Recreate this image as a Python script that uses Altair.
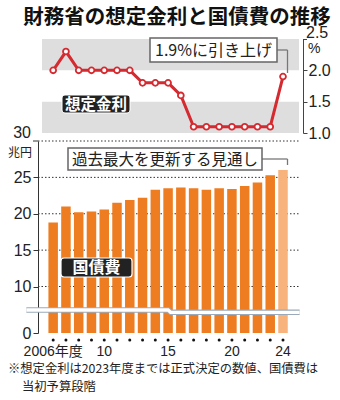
import altair as alt
import pandas as pd

FONT = "Noto Sans CJK JP"
NUMFONT = "Liberation Sans, Noto Sans CJK JP"

# ---- data ----
years = list(range(2006, 2025))
rate = [2.0, 2.3, 2.0, 2.0, 2.0, 2.0, 2.0, 1.8, 1.8, 1.8, 1.6, 1.1, 1.1, 1.1, 1.1, 1.1, 1.1, 1.1, 1.9]
debt = [18.8, 21.0, 20.2, 20.3, 20.6, 21.5, 21.9, 22.2, 23.3, 23.5, 23.6, 23.5, 23.3, 23.5, 23.4, 23.8, 24.3, 25.3, 26.0]
kind = ["確定"] * 18 + ["見通し"]
x_label_years = [2006, 2010, 2015, 2020, 2024]
x_label_texts = ["2006年度", "10", "15", "20", "24"]
rate_ticks = [1.0, 1.5, 2.0]
debt_ticks = [0, 10, 15, 20, 25]
debt_grid = [10, 15, 20, 25, 30]
band_lo = [2.0, 1.0]
band_hi = [2.5, 1.5]
break_x = [2003.9, 2015.0, 2015.2, 2025.3]
break_y = [4.95, 4.95, 4.45, 4.45]

RED = "#d42a30"
ORANGE = "#ee7d22"
LIGHT = "#f8b27c"

df = pd.DataFrame({"year": years, "rate": rate, "debt": debt, "kind": kind})
bands_df = pd.DataFrame({"lo": band_lo, "hi": band_hi})
grid_df = pd.DataFrame({"v": debt_grid})
xlab_df = pd.DataFrame({"year": x_label_years, "lab": x_label_texts})
break_df = pd.DataFrame({"year": break_x, "v": break_y, "o": list(range(len(break_x)))})

W, H = 260, 294
xscale = alt.Scale(domain=[2005.36, 2024.94], nice=False, zero=False)
X = alt.X("year:Q", scale=xscale, axis=None)


def rate_scale():
    return alt.Scale(domain=[1.0, 2.5], range=[94, 0], nice=False, zero=False)


def debt_scale():
    return alt.Scale(domain=[0, 10, 30], range=[294, 247.5, 102], nice=False, zero=False)


rate_axis = alt.Axis(orient="right", values=rate_ticks, offset=3, tickSize=4,
                     format=".1f",
                     labelFont=NUMFONT, labelFontSize=16, labelColor="#222", labelPadding=1,
                     domainColor="#444", tickColor="#444", grid=False, title=None)
debt_axis = alt.Axis(orient="left", values=debt_ticks, offset=2, tickSize=5,
                     format="d",
                     labelFont=NUMFONT, labelFontSize=16, labelColor="#222", labelPadding=2,
                     domainColor="#333", tickColor="#333", grid=False, title=None)


def RY(field, axis=None):
    return alt.Y(field, scale=rate_scale(), axis=axis)


def DY(field, axis=None):
    return alt.Y(field, scale=debt_scale(), axis=axis)


def one():
    return pd.DataFrame({"t": [""]})


def text(label, x, y, **kw):
    base = dict(font=FONT, baseline="middle")
    base.update(kw)
    return alt.Chart(pd.DataFrame({"t": [label]})).mark_text(**base).encode(
        x=alt.value(x), y=alt.value(y), text="t:N")


def box(x1, x2, y1, y2, **kw):
    return alt.Chart(one()).mark_rect(**kw).encode(
        x=alt.value(x1), x2=alt.value(x2), y=alt.value(y1), y2=alt.value(y2))


def seg(x1, x2, y1, y2, **kw):
    return alt.Chart(one()).mark_rule(**kw).encode(
        x=alt.value(x1), x2=alt.value(x2), y=alt.value(y1), y2=alt.value(y2))


# ---- rate panel ----
bands = alt.Chart(bands_df).mark_rect(color="#dedede").encode(
    x=alt.value(2), x2=alt.value(259), y=RY("hi:Q"), y2="lo:Q")
line = alt.Chart(df).mark_line(color=RED, strokeWidth=3).encode(x=X, y=RY("rate:Q", rate_axis))
pts = alt.Chart(df).mark_point(filled=True, fill="white", stroke=RED, strokeWidth=1.8,
                               size=34, opacity=1).encode(x=X, y=RY("rate:Q"))

# ---- debt panel ----
grid = alt.Chart(grid_df).mark_rule(color="#333", strokeWidth=1, strokeDash=[1.5, 2]).encode(
    x=alt.value(-2), x2=alt.value(260), y=DY("v:Q"))
bars = alt.Chart(df).mark_bar(size=9.5).encode(
    x=X, y=DY("debt:Q", debt_axis),
    color=alt.Color("kind:N", scale=alt.Scale(domain=["確定", "見通し"], range=[ORANGE, LIGHT]),
                    legend=None))
brk_gray = alt.Chart(break_df).mark_line(color="#9aaaba", strokeWidth=5.5).encode(
    x=alt.X("year:Q", scale=xscale, axis=None), y=DY("v:Q"), order="o:Q")
brk_white = alt.Chart(break_df).mark_line(color="white", strokeWidth=3.3).encode(
    x=alt.X("year:Q", scale=xscale, axis=None), y=DY("v:Q"), order="o:Q")
dots = alt.Chart(df).mark_circle(size=9, color="#111", opacity=1).encode(x=X, y=alt.value(301))
xlabs = alt.Chart(xlab_df).mark_text(font=NUMFONT, fontSize=14, color="#222", baseline="middle").encode(
    x=X, y=alt.value(313), text="lab:N")

layers = [
    bands, line, pts,
    seg(263, 267, 0.5, 0.5, color="#444", strokeWidth=1),
    seg(237, 247.5, 11, 11, color="#777", strokeWidth=1.3),
    seg(247.5, 247.5, 11, 34, color="#777", strokeWidth=1.3),
    box(110, 237, -1, 23, fill="white", stroke="#666", strokeWidth=1.5),
    text("1.9%に引き上げ", 173.5, 11.5, fontSize=16, color="#222"),
    box(22, 90, 56, 74, fill="#222", stroke="white", strokeWidth=1, cornerRadius=3),
    text("想定金利", 56, 65.5, fontSize=15.5, fontWeight="bold", color="white"),
    text("2.5", 266, -6.5, fontSize=16, align="left", font=NUMFONT, color="#222"),
    text("%", 268, 9.5, fontSize=14, align="left", font=NUMFONT, color="#222"),
    grid, bars, brk_gray, brk_white, dots, xlabs,
    seg(-7, -2, 102, 102, color="#333", strokeWidth=1),
    seg(222, 247.5, 120, 120, color="#777", strokeWidth=1.3),
    seg(247.5, 247.5, 120, 126, color="#777", strokeWidth=1.3),
    box(28, 222, 109, 131, fill="white", stroke="#666", strokeWidth=1.5),
    text("過去最大を更新する見通し", 125, 120.5, fontSize=15.5, color="#222"),
    box(21, 92, 219, 238, fill="#222", stroke="white", strokeWidth=1.2, cornerRadius=3),
    text("国債費", 56.5, 229, fontSize=16, fontWeight="bold", color="white"),
    text("30", -9, 94, fontSize=16, align="right", font=NUMFONT, color="#222"),
    text("兆円", -8, 113.5, fontSize=12, align="right", color="#222"),
    text("財務省の想定金利と国債費の推移", 137, -21.5, fontSize=20.5, fontWeight="bold", color="#111"),
    text("※想定金利は2023年度までは正式決定の数値、国債費は", -32, 330, fontSize=12.3,
         align="left", color="#222"),
    text("当初予算段階", -18, 348, fontSize=12.3, align="left", color="#222"),
]

chart = alt.layer(*layers).resolve_scale(y="independent").properties(
    width=W, height=H,
    padding={"left": 40, "top": 39, "right": 40, "bottom": 67},
    autosize=alt.AutoSizeParams(type="none"),
    background="white",
).configure_view(stroke=None)

chart.save("out.html", embed_options={"renderer": "svg", "actions": False})
